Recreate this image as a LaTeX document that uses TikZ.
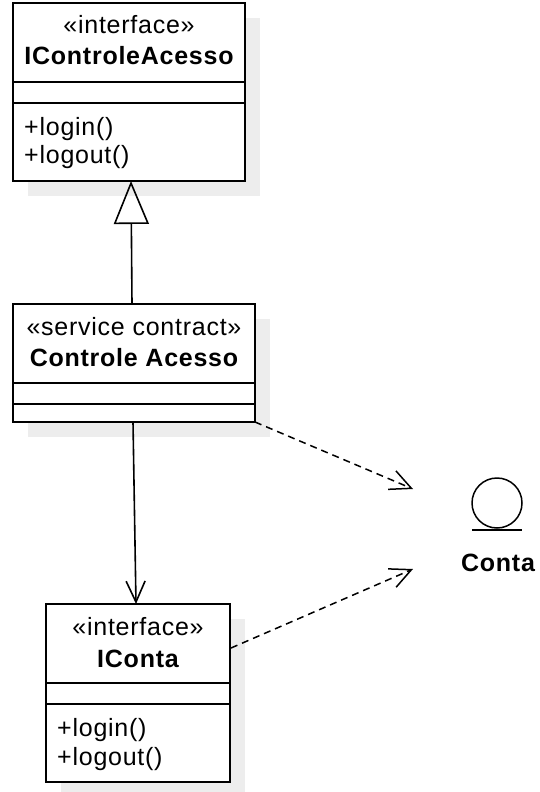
\documentclass[tikz,border=0pt]{standalone}
\usepackage{fontspec}
\setmainfont{Liberation Sans}[LetterSpace=3]
\usetikzlibrary{arrows.meta, calc}

\begin{document}
\begin{tikzpicture}[x=1pt, y=-1pt,
        classbox/.style={draw, line width=1.6pt, fill=white, anchor=north west, inner sep=0pt, outer sep=0pt},
        backdrop/.style={fill=black!7},
        umltext/.style={font=\fontsize{25}{30}\selectfont, inner sep=0pt, anchor=base},
        umlname/.style={umltext, font=\fontsize{25}{30}\selectfont\bfseries},
        umlop/.style={umltext, anchor=base west},
        generalize/.style={line width=1.6pt, -{Triangle[open, length=43pt, width=35pt, line width=1.6pt]}},
        assoc/.style={line width=1.6pt, -{Straight Barb[length=21pt, width=19pt]}},
        depend/.style={line width=1.5pt, dash pattern=on 7pt off 5pt, -{Straight Barb[length=21pt, width=20pt, line width=1.5pt]}}]
    \useasboundingbox (0,0) rectangle (539,792);

    % Classes: grey backdrop, box, and the two divider lines
    \foreach \name/\x/\y/\w/\h in {ica/13/3/232/178, ca/13/304/242/118, ic/46/604/184/178}{%
        \fill[backdrop] (\x+15,\y+15) rectangle ++(\w,\h);
        \node[classbox, minimum width=\w pt, minimum height=\h pt] (\name) at (\x,\y) {};
        \draw[line width=1.6pt] (\name.north west) ++(0,79) -- ++(\w,0);
        \draw[line width=1.6pt] (\name.north west) ++(0,100) -- ++(\w,0);
    }

    % Texts of the classes
    \node[umltext] (ica-st) at (129,34) {«interface»};
    \node[umlname] (ica-nm) at (129,65) {IControleAcesso};
    \node[umlop] (ica-op1) at (24,135) {+login()};
    \node[umlop] (ica-op2) at (24,163) {+logout()};

    \node[umltext] (ca-st) at (134,335) {«service contract»};
    \node[umlname] (ca-nm) at (134,366) {Controle Acesso};

    \node[umltext] (ic-st) at (138,635) {«interface»};
    \node[umlname] (ic-nm) at (138,667) {IConta};
    \node[umlop] (ic-op1) at (57,736) {+login()};
    \node[umlop] (ic-op2) at (57,765) {+logout()};

    % Provided interface (lollipop)
    \node[circle, draw, line width=1.5pt, minimum size=50pt, inner sep=0pt] (conta) at (497,503) {};
    \draw[line width=1.5pt] (conta.south) ++(-25,1) -- ++(50,0);
    \node[umlname] (conta-nm) at (498,571) {Conta};
    \coordinate (conta-in1) at (413,489);
    \coordinate (conta-in2) at (413,569);

    % Connectors
    \draw[generalize] ([xshift=-2pt]ca.north) -- ([xshift=2pt]ica.south);
    \draw[assoc] ([xshift=-1pt]ca.south) -- ([xshift=-2pt]ic.north);
    \draw[depend] (ca.south east) -- (conta-in1);
    \draw[depend] ($(ic.north east)+(1,44)$) -- (conta-in2);
\end{tikzpicture}
\end{document}
